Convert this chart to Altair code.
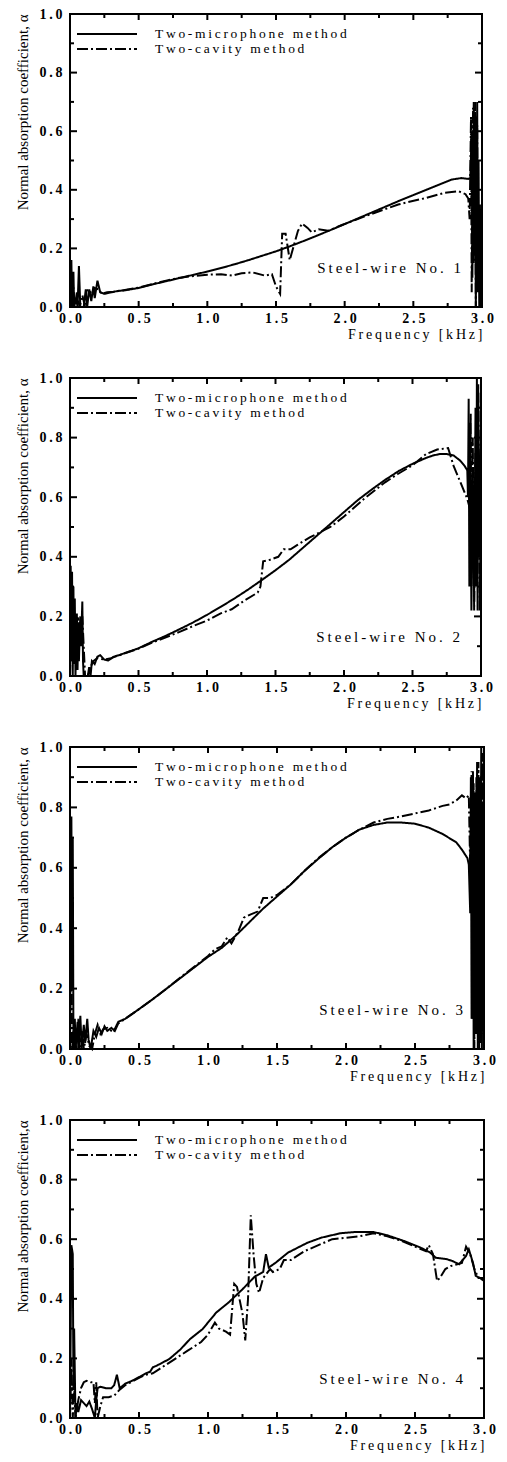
import altair as alt
import pandas as pd

FONT = "Liberation Serif"
THIN = "\u2009"
METHODS = ["Two-microphone method", "Two-cavity method"]
PANEL_LABELS = ["Steel-wire No. 1", "Steel-wire No. 2", "Steel-wire No. 3", "Steel-wire No. 4"]
Y_TITLES = ["Normal absorption coefficient, \u03b1"] * 3 + ["Normal absorption coefficient,\u03b1"]
X_TITLE = "Frequency [kHz]"
X_MAJOR = [0.0, 0.5, 1.0, 1.5, 2.0, 2.5, 3.0]
Y_MAJOR = [0.0, 0.2, 0.4, 0.6, 0.8, 1.0]

# ---------------- Panel 1 ----------------
P1_MIC_F = [0.0, 0.01, 0.015, 0.025, 0.03, 0.045, 0.055, 0.065, 0.075, 0.10, 0.115, 0.125, 0.14, 0.155, 0.17, 0.18, 0.20, 0.22, 0.25, 0.30, 0.35, 0.40, 0.50, 0.60, 0.70, 0.80, 0.90, 1.00, 1.10, 1.20, 1.30, 1.40, 1.50, 1.60, 1.70, 1.80, 1.90, 2.00, 2.10, 2.20, 2.30, 2.40, 2.50, 2.60, 2.70, 2.78, 2.85, 2.90, 2.915, 2.925, 2.93, 2.94, 2.945, 2.95, 2.955, 2.965, 2.97, 2.975, 2.98, 2.985, 2.99, 3.0]
P1_MIC_A = [0.0, 0.16, 0.0, 0.12, 0.0, 0.03, 0.0, 0.14, 0.0, 0.0, 0.06, 0.0, 0.06, 0.02, 0.07, 0.03, 0.09, 0.05, 0.045, 0.05, 0.055, 0.057, 0.065, 0.077, 0.088, 0.099, 0.11, 0.121, 0.133, 0.146, 0.16, 0.175, 0.19, 0.207, 0.225, 0.244, 0.263, 0.283, 0.303, 0.323, 0.343, 0.363, 0.382, 0.401, 0.42, 0.435, 0.44, 0.437, 0.44, 0.6, 0.1, 0.7, 0.2, 0.65, 0.0, 0.7, 0.05, 0.5, 0.0, 0.35, 0.02, 0.2]
P1_CAV_F = [0.0, 0.02, 0.035, 0.05, 0.07, 0.09, 0.11, 0.12, 0.14, 0.16, 0.18, 0.21, 0.23, 0.27, 0.32, 0.40, 0.50, 0.60, 0.70, 0.80, 0.90, 1.00, 1.10, 1.18, 1.25, 1.33, 1.42, 1.47, 1.50, 1.53, 1.545, 1.57, 1.60, 1.63, 1.66, 1.69, 1.73, 1.76, 1.81, 1.88, 1.98, 2.15, 2.39, 2.59, 2.73, 2.83, 2.88, 2.90, 2.91, 2.92, 2.925, 2.935, 2.94, 2.95, 2.955, 2.965, 2.97, 2.98, 2.99, 3.0]
P1_CAV_A = [0.0, 0.09, 0.0, 0.05, 0.0, 0.04, 0.0, 0.055, 0.06, 0.04, 0.065, 0.06, 0.045, 0.05, 0.052, 0.058, 0.066, 0.078, 0.09, 0.1, 0.106, 0.11, 0.112, 0.107, 0.115, 0.118, 0.107, 0.112, 0.07, 0.045, 0.25, 0.25, 0.16, 0.21, 0.26, 0.285, 0.27, 0.255, 0.265, 0.26, 0.28, 0.31, 0.35, 0.372, 0.39, 0.395, 0.385, 0.37, 0.30, 0.65, 0.05, 0.68, 0.15, 0.7, 0.0, 0.62, 0.1, 0.2, 0.0, 0.2]

# ---------------- Panel 2 ----------------
P2_MIC_F = [0.0, 0.005, 0.01, 0.015, 0.02, 0.025, 0.03, 0.035, 0.04, 0.05, 0.055, 0.06, 0.065, 0.075, 0.08, 0.09, 0.095, 0.10, 0.13, 0.14, 0.15, 0.16, 0.18, 0.20, 0.22, 0.25, 0.28, 0.32, 0.36, 0.40, 0.50, 0.60, 0.70, 0.80, 0.90, 1.00, 1.10, 1.20, 1.30, 1.40, 1.50, 1.60, 1.70, 1.80, 1.90, 2.00, 2.10, 2.20, 2.30, 2.40, 2.50, 2.60, 2.65, 2.70, 2.75, 2.80, 2.85, 2.88, 2.90, 2.905, 2.91, 2.915, 2.92, 2.93, 2.94, 2.95, 2.96, 2.965, 2.97, 2.975, 2.98, 2.99, 3.0]
P2_MIC_A = [0.0, 0.37, 0.05, 0.35, 0.0, 0.3, 0.04, 0.26, 0.0, 0.21, 0.02, 0.18, 0.05, 0.2, 0.1, 0.25, 0.05, 0.0, 0.0, 0.03, 0.0, 0.05, 0.04, 0.065, 0.07, 0.055, 0.052, 0.065, 0.07, 0.077, 0.093, 0.115, 0.135, 0.157, 0.18, 0.205, 0.232, 0.26, 0.29, 0.322, 0.355, 0.39, 0.43, 0.47, 0.51, 0.55, 0.59, 0.625, 0.658, 0.688, 0.712, 0.732, 0.74, 0.745, 0.745, 0.74, 0.722, 0.705, 0.69, 0.6, 0.93, 0.3, 0.85, 0.22, 0.7, 0.25, 0.9, 0.3, 1.0, 0.22, 0.95, 0.4, 0.8]
P2_CAV_F = [0.0, 0.01, 0.02, 0.03, 0.04, 0.05, 0.06, 0.07, 0.08, 0.09, 0.10, 0.11, 0.13, 0.15, 0.17, 0.20, 0.25, 0.30, 0.40, 0.50, 0.60, 0.70, 0.80, 0.90, 1.00, 1.10, 1.18, 1.27, 1.37, 1.39, 1.41, 1.46, 1.52, 1.56, 1.61, 1.66, 1.75, 1.90, 2.00, 2.145, 2.30, 2.39, 2.50, 2.60, 2.68, 2.76, 2.80, 2.85, 2.90, 2.92, 2.925, 2.93, 2.94, 2.95, 2.96, 2.97, 2.98, 2.99, 3.0]
P2_CAV_A = [0.0, 0.2, 0.05, 0.22, 0.1, 0.18, 0.2, 0.12, 0.17, 0.2, 0.1, 0.0, 0.0, 0.03, 0.05, 0.06, 0.055, 0.06, 0.076, 0.092, 0.112, 0.13, 0.148, 0.168, 0.186, 0.21, 0.224, 0.252, 0.28, 0.30, 0.385, 0.39, 0.40, 0.425, 0.425, 0.44, 0.465, 0.50, 0.535, 0.594, 0.65, 0.677, 0.707, 0.745, 0.76, 0.765, 0.705, 0.65, 0.594, 0.56, 0.88, 0.3, 0.8, 0.22, 0.75, 0.3, 0.98, 0.22, 0.6]

# ---------------- Panel 3 ----------------
P3_MIC_F = [0.0, 0.01, 0.015, 0.02, 0.025, 0.035, 0.04, 0.055, 0.06, 0.075, 0.085, 0.10, 0.11, 0.125, 0.135, 0.15, 0.17, 0.19, 0.21, 0.23, 0.25, 0.27, 0.30, 0.32, 0.35, 0.40, 0.50, 0.60, 0.70, 0.80, 0.90, 1.00, 1.10, 1.20, 1.30, 1.40, 1.50, 1.60, 1.70, 1.80, 1.90, 2.00, 2.10, 2.20, 2.30, 2.40, 2.50, 2.60, 2.70, 2.80, 2.84, 2.88, 2.89, 2.90, 2.905, 2.91, 2.92, 2.925, 2.935, 2.94, 2.95, 2.955, 2.965, 2.97, 2.98, 2.985, 2.99, 3.0]
P3_MIC_A = [0.0, 0.77, 0.2, 0.7, 0.0, 0.1, 0.0, 0.09, 0.0, 0.11, 0.0, 0.08, 0.02, 0.1, 0.03, 0.0, 0.06, 0.04, 0.07, 0.05, 0.075, 0.06, 0.07, 0.062, 0.09, 0.1, 0.132, 0.165, 0.2, 0.235, 0.27, 0.305, 0.335, 0.375, 0.42, 0.465, 0.505, 0.545, 0.59, 0.63, 0.668, 0.7, 0.727, 0.742, 0.75, 0.75, 0.746, 0.733, 0.712, 0.684, 0.66, 0.632, 0.61, 0.45, 0.9, 0.1, 0.92, 0.0, 0.85, 0.05, 0.95, 0.0, 0.9, 0.02, 1.0, 0.0, 0.8, 0.3]
P3_CAV_F = [0.0, 0.01, 0.015, 0.03, 0.045, 0.06, 0.07, 0.09, 0.10, 0.12, 0.14, 0.16, 0.18, 0.20, 0.22, 0.24, 0.27, 0.30, 0.32, 0.35, 0.40, 0.50, 0.60, 0.70, 0.80, 0.90, 1.00, 1.05, 1.10, 1.14, 1.17, 1.22, 1.26, 1.31, 1.36, 1.40, 1.45, 1.50, 1.60, 1.70, 1.80, 1.90, 2.00, 2.10, 2.20, 2.30, 2.40, 2.50, 2.60, 2.70, 2.75, 2.80, 2.84, 2.87, 2.89, 2.90, 2.91, 2.915, 2.925, 2.93, 2.945, 2.95, 2.96, 2.965, 2.975, 2.98, 2.99, 3.0]
P3_CAV_A = [0.0, 0.5, 0.0, 0.08, 0.0, 0.1, 0.0, 0.06, 0.0, 0.05, 0.01, 0.0, 0.05, 0.08, 0.05, 0.065, 0.07, 0.06, 0.055, 0.085, 0.1, 0.132, 0.165, 0.2, 0.237, 0.272, 0.308, 0.33, 0.34, 0.37, 0.35, 0.39, 0.435, 0.446, 0.455, 0.5, 0.5, 0.51, 0.545, 0.59, 0.632, 0.668, 0.7, 0.727, 0.75, 0.762, 0.77, 0.78, 0.79, 0.805, 0.81, 0.823, 0.84, 0.83, 0.84, 0.6, 0.92, 0.1, 0.88, 0.0, 0.9, 0.05, 0.95, 0.0, 0.85, 0.02, 0.98, 0.2]

# ---------------- Panel 4 ----------------
P4_MIC_F = [0.0, 0.01, 0.02, 0.025, 0.03, 0.04, 0.05, 0.06, 0.08, 0.10, 0.12, 0.14, 0.16, 0.18, 0.19, 0.20, 0.22, 0.26, 0.30, 0.32, 0.34, 0.36, 0.40, 0.45, 0.50, 0.55, 0.58, 0.60, 0.63, 0.72, 0.80, 0.87, 0.96, 1.06, 1.15, 1.25, 1.34, 1.40, 1.42, 1.44, 1.49, 1.58, 1.72, 1.82, 1.96, 2.06, 2.20, 2.30, 2.42, 2.54, 2.61, 2.65, 2.73, 2.77, 2.82, 2.87, 2.89, 2.92, 2.94, 2.97, 3.0]
P4_MIC_A = [0.0, 0.58, 0.55, 0.1, 0.3, 0.0, 0.05, 0.02, 0.06, 0.05, 0.04, 0.055, 0.03, 0.0, 0.06, 0.10, 0.105, 0.10, 0.10, 0.11, 0.145, 0.10, 0.115, 0.125, 0.137, 0.15, 0.155, 0.17, 0.176, 0.198, 0.23, 0.265, 0.298, 0.354, 0.388, 0.432, 0.475, 0.49, 0.55, 0.505, 0.521, 0.555, 0.588, 0.605, 0.62, 0.624, 0.624, 0.613, 0.594, 0.572, 0.555, 0.538, 0.533, 0.527, 0.516, 0.544, 0.566, 0.521, 0.477, 0.47, 0.46]
P4_CAV_F = [0.0, 0.01, 0.02, 0.03, 0.04, 0.06, 0.08, 0.10, 0.12, 0.15, 0.17, 0.18, 0.19, 0.20, 0.22, 0.24, 0.28, 0.32, 0.36, 0.40, 0.50, 0.55, 0.60, 0.65, 0.70, 0.80, 0.85, 0.90, 0.95, 1.00, 1.05, 1.08, 1.13, 1.16, 1.19, 1.21, 1.25, 1.27, 1.29, 1.31, 1.33, 1.35, 1.37, 1.40, 1.45, 1.47, 1.52, 1.55, 1.60, 1.70, 1.80, 1.90, 2.00, 2.10, 2.20, 2.30, 2.40, 2.50, 2.58, 2.60, 2.63, 2.66, 2.68, 2.72, 2.76, 2.80, 2.84, 2.87, 2.90, 2.93, 2.96, 3.0]
P4_CAV_A = [0.0, 0.2, 0.0, 0.1, 0.0, 0.06, 0.10, 0.12, 0.125, 0.12, 0.12, 0.05, 0.12, 0.0, 0.04, 0.07, 0.07, 0.075, 0.095, 0.11, 0.135, 0.145, 0.15, 0.165, 0.18, 0.21, 0.225, 0.24, 0.255, 0.28, 0.32, 0.30, 0.29, 0.28, 0.45, 0.44, 0.35, 0.26, 0.40, 0.68, 0.55, 0.45, 0.42, 0.47, 0.50, 0.49, 0.50, 0.53, 0.53, 0.56, 0.58, 0.60, 0.605, 0.61, 0.62, 0.61, 0.595, 0.575, 0.56, 0.58, 0.55, 0.46, 0.47, 0.50, 0.51, 0.515, 0.52, 0.575, 0.55, 0.50, 0.47, 0.47]

PANELS = [
    (P1_MIC_F, P1_MIC_A, P1_CAV_F, P1_CAV_A),
    (P2_MIC_F, P2_MIC_A, P2_CAV_F, P2_CAV_A),
    (P3_MIC_F, P3_MIC_A, P3_CAV_F, P3_CAV_A),
    (P4_MIC_F, P4_MIC_A, P4_CAV_F, P4_CAV_A),
]
WIDTHS = [412, 411, 414, 414]
HEIGHTS = [293, 298, 302, 298]

# inward tick positions
X_MAJ_IN = [0.5, 1.0, 1.5, 2.0, 2.5]
X_MIN_IN = [0.25, 0.75, 1.25, 1.75, 2.25, 2.75]
Y_MAJ_IN = [0.2, 0.4, 0.6, 0.8]
Y_MIN_IN = [0.1, 0.3, 0.5, 0.7, 0.9]

DASHES = [[1, 0], [11, 3, 2, 3]]
SPACE_EXPR = "join(split(datum.label, ''), '\u2009')"
NUM_EXPR = "replace(format(datum.value, '.1f'), '.', '\u2009.\u2009')"


def spaced(s):
    return THIN.join(s)


def make_panel(i):
    mf, ma, cf, ca = PANELS[i]
    w, h = WIDTHS[i], HEIGHTS[i]
    df = pd.concat([
        pd.DataFrame({"f": mf, "a": ma, "method": METHODS[0]}),
        pd.DataFrame({"f": cf, "a": ca, "method": METHODS[1]}),
    ], ignore_index=True)
    xs = alt.Scale(domain=[0, 3], nice=False, zero=False)
    ys = alt.Scale(domain=[0, 1], nice=False, zero=False)
    main_x = alt.Axis(values=X_MAJOR, labelExpr=NUM_EXPR, ticks=False, domain=False,
                      grid=False, labelFlush=False, labelOverlap=False, labelPadding=4,
                      labelFont=FONT, labelFontSize=14, labelFontWeight="bold",
                      labelColor="black", title=spaced(X_TITLE), titleAnchor="end",
                      titleFont=FONT, titleFontSize=14, titleFontWeight="normal",
                      titleColor="black", titlePadding=2)
    main_y = alt.Axis(values=Y_MAJOR, labelExpr=NUM_EXPR, ticks=False, domain=False,
                      grid=False, labelFlush=False, labelOverlap=False, labelPadding=8,
                      labelFont=FONT, labelFontSize=14, labelFontWeight="bold",
                      labelColor="black", title=Y_TITLES[i], titleAnchor="end",
                      titleFont=FONT, titleFontSize=15, titleFontWeight="normal",
                      titleColor="black", titlePadding=8)
    X = lambda: alt.X("f:Q", scale=xs, axis=main_x)
    Y = lambda: alt.Y("a:Q", scale=ys, axis=main_y)

    lines = alt.Chart(df).mark_line(color="black", strokeWidth=2).encode(
        x=X(), y=Y(),
        strokeDash=alt.StrokeDash("method:N", scale=alt.Scale(domain=METHODS, range=DASHES), legend=None),
    )

    layers = [lines]
    tick_style = dict(color="black", strokeWidth=2)
    for vals, ln in [(X_MAJ_IN, 6), (X_MIN_IN, 4)]:
        tdf = pd.DataFrame({"f": vals})
        layers.append(alt.Chart(tdf).mark_rule(**tick_style).encode(
            x=X(), y=alt.value(h), y2=alt.value(h - ln)))
        layers.append(alt.Chart(tdf).mark_rule(**tick_style).encode(
            x=X(), y=alt.value(0), y2=alt.value(ln)))
    for vals, ln in [(Y_MAJ_IN, 7), (Y_MIN_IN, 4)]:
        tdf = pd.DataFrame({"a": vals})
        layers.append(alt.Chart(tdf).mark_rule(**tick_style).encode(
            y=Y(), x=alt.value(0), x2=alt.value(ln)))
        layers.append(alt.Chart(tdf).mark_rule(**tick_style).encode(
            y=Y(), x=alt.value(w), x2=alt.value(w - ln)))

    # legend drawn inside the plot (key lines + labels)
    for k, (meth, dash) in enumerate(zip(METHODS, DASHES)):
        ypos = 20 + 15 * k
        ldf = pd.DataFrame({"label": [meth]})
        layers.append(
            alt.Chart(ldf).mark_rule(color="black", strokeWidth=2.2, strokeDash=dash).encode(
                x=alt.value(7), x2=alt.value(67), y=alt.value(ypos)
            )
        )
        layers.append(
            alt.Chart(ldf).transform_calculate(sp=SPACE_EXPR).mark_text(
                align="left", baseline="middle", font=FONT, fontSize=13.5, color="black"
            ).encode(x=alt.value(85), y=alt.value(ypos), text="sp:N")
        )
    layers.append(
        alt.Chart(pd.DataFrame({"label": [PANEL_LABELS[i]]})).transform_calculate(
            sp=SPACE_EXPR
        ).mark_text(align="right", baseline="middle", font=FONT, fontSize=15, color="black").encode(
            x=alt.value(w - 21), y=alt.value(h - 39), text="sp:N"
        )
    )
    return alt.layer(*layers).properties(
        width=w, height=h,
        view=alt.ViewBackground(stroke="black", strokeWidth=2),
    )


chart = alt.vconcat(*[make_panel(i) for i in range(4)], spacing=71, bounds="flush").properties(
    padding={"left": 6, "top": -2, "right": 0, "bottom": 0},
    background="white",
).configure_view(stroke="black", strokeWidth=2)

chart.save("out.html", embed_options={"renderer": "svg", "actions": False})
